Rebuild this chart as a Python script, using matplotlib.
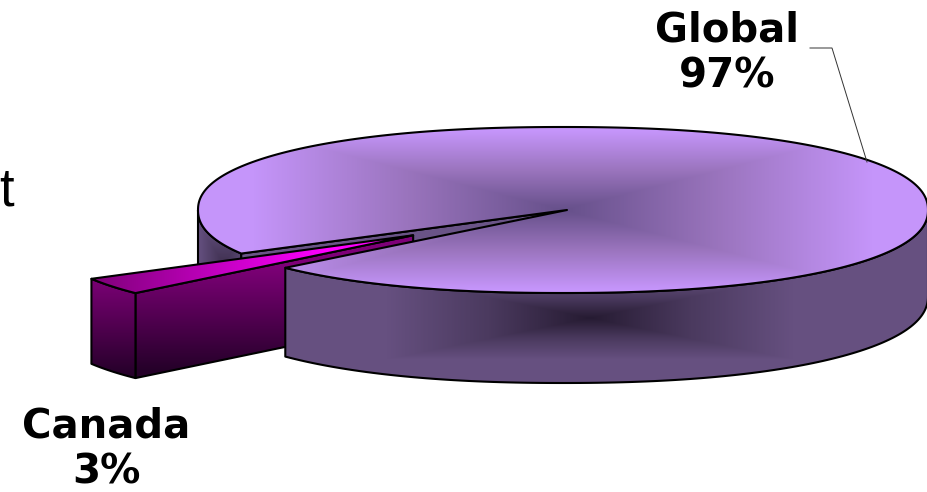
import numpy as np
import matplotlib
matplotlib.use('Agg')
import matplotlib.pyplot as plt
from matplotlib.colors import LinearSegmentedColormap
from matplotlib.patches import Polygon

labels = ['Global', 'Canada']
shares = [97, 3]

# pie geometry in pixels
cx, cy = 563, 210
rx, ry = 365, 83
depth = 86
ry_bottom = 87
boxy = 0.91        # the tilted disc looks a bit squared off
stretch = 1.18     # tilt widens the angles at the front left
wedge_mid = 144.15
explode = 0.52
line_w = 1.5

W, H = 927, 492

fig = plt.figure(figsize=(W / 100, H / 100), dpi=100)
ax = fig.add_axes([0, 0, 1, 1])


def rim(theta, y0=cy, ryy=ry, x0=cx):
    t = np.radians(theta)
    c, s = np.cos(t), np.sin(t)
    x = x0 + rx * np.sign(c) * np.abs(c) ** boxy
    y = y0 + ryy * np.sign(s) * np.abs(s) ** boxy
    return np.column_stack([x, y])


def box_t(px, py, mx, my, w, h):
    # rectangular path gradient, 0 in the middle and 1 at the box edge
    return np.clip(np.maximum(np.abs(px - mx) / w, np.abs(py - my) / h), 0, 1)


def shaded(verts, values, cmap, z):
    poly = Polygon(verts, closed=True, facecolor='none', edgecolor='black',
                   linewidth=line_w, joinstyle='round', zorder=z + 0.5)
    ax.add_patch(poly)
    im = ax.imshow(values, cmap=cmap, vmin=0, vmax=1, extent=[0, W, H, 0],
                   interpolation='bilinear', aspect='auto', zorder=z)
    im.set_clip_path(poly)


px, py = np.meshgrid(np.arange(W) + 0.5, np.arange(H) + 0.5)

top_cmap = LinearSegmentedColormap.from_list('top', ['#66508a', '#9a74bd', '#c595fa'])
wall_cmap = LinearSegmentedColormap.from_list('wall', ['#261b32', '#4b3a5f', '#665080', '#665080'])
back_cmap = LinearSegmentedColormap.from_list('back', ['#3f3050', '#6b5688'])
hot_cmap = LinearSegmentedColormap.from_list('hot', ['#ff00ff', '#7e0078'])
face_cmap = LinearSegmentedColormap.from_list('face', ['#7e0078', '#250029'])

canada_span = shares[1] / sum(shares) * 360 * stretch
global_span = 360 - canada_span
a_low = wedge_mid - canada_span / 2    # near cut of the gap
a_up = wedge_mid + canada_span / 2     # far cut of the gap

# Global: back left wall seen behind the exploded slice
th = np.linspace(a_up, 180, 40)
back = np.vstack([rim(th), rim(th[::-1]) + [0, depth]])
shaded(back, box_t(px, py, 224, 264, 30, 46), back_cmap, 1)

# Global: cut face showing through the gap
corner = rim(np.array([a_up]))[0]
inner = np.array([[cx + 4, cy], corner, corner + [0, depth], [cx + 4, cy + depth]])
ax.add_patch(Polygon(inner, closed=True, facecolor='#6a5487', edgecolor='black',
                     linewidth=line_w, zorder=2))

# Canada: exploded slice
mid = np.radians(wedge_mid)
tx = cx + 4 + explode * rx * np.cos(mid)
ty = cy + explode * ry * np.sin(mid)
th = np.linspace(a_low, a_up, 20)
edge = rim(th, ty, ry, tx)
tip = np.array([tx, ty])
front = np.array([tip, edge[0], edge[0] + [0, depth - 1], tip + [0, depth - 1]])
shaded(front, np.clip((py - (ty + 30)) / 105, 0, 1), face_cmap, 3)
side = np.vstack([edge, edge[::-1] + [0, depth - 1]])
shaded(side, np.clip((py - (ty + 40)) / 100, 0, 1), face_cmap, 4)
slice_top = np.vstack([tip, edge])
shaded(slice_top, np.clip((tx - 85 - px) / (tx - 85 - edge[:, 0].min()), 0, 1), hot_cmap, 5)

# Global: front wall
th = np.linspace(0, a_low, 120)
wall = np.vstack([rim(th), rim(th[::-1], cy + depth, ry_bottom)])
shaded(wall, box_t(px, py, 590, 318, 305, 62), wall_cmap, 6)

# Global: top face, running round from the far cut to the near cut
th = np.linspace(a_up, a_up + global_span, 300)
disc = np.vstack([[cx + 4, cy], rim(th)])
shaded(disc, box_t(px, py, cx, cy, rx * 0.85, ry * 0.95), top_cmap, 7)

# labels
bold = dict(family='DejaVu Sans', fontweight='bold', fontsize=29, ha='center',
            va='baseline', color='black', zorder=10)
ax.text(727, 41, labels[0], **bold)
ax.text(727, 88, f'{shares[0]}%', **bold)
ax.text(106, 438, labels[1], **bold)
ax.text(106, 483, f'{shares[1]}%', **bold)
ax.plot([810, 832, 867], [48, 48, 162], color='#333333', lw=0.7, zorder=9)
ax.text(14, 205, 't', family='Liberation Sans', fontsize=38, ha='right', va='baseline', color='black')

ax.set_xlim(0, W)
ax.set_ylim(H, 0)
ax.axis('off')
fig.savefig('out.png', dpi=100, facecolor='white')
